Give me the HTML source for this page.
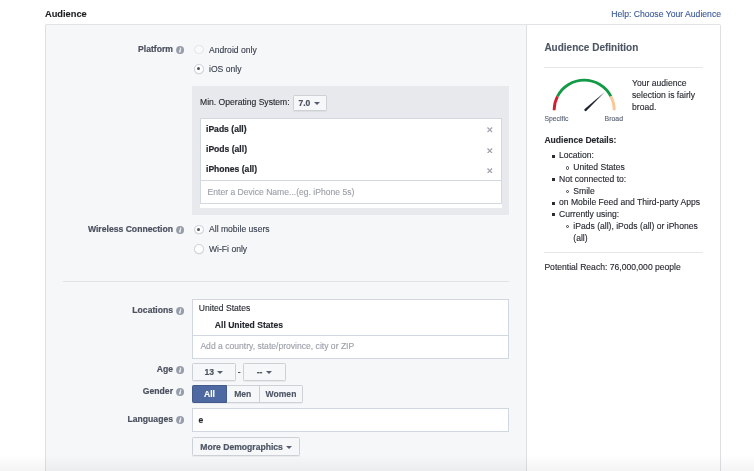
<!DOCTYPE html>
<html>
<head>
<meta charset="utf-8">
<style>
html,body{margin:0;padding:0;}
body{width:754px;height:471px;position:relative;overflow:hidden;background:#fff;font-family:"Liberation Sans",sans-serif;font-size:8.58px;color:#25282f;line-height:12px;-webkit-text-stroke:0.12px;}
.abs{position:absolute;white-space:nowrap;}
.title{left:45.2px;top:8px;font-size:9.9px;transform:scaleX(0.94);transform-origin:0 0;font-weight:bold;color:#1c1e21;line-height:12px;}
.help{right:33px;top:8px;font-size:8.63px;color:#3b5998;line-height:12px;}
.panelL{left:45px;top:24px;width:481px;height:460px;background:#f6f7f8;border:1px solid #dddfe2;border-top-color:#e2e3e6;border-right:none;border-radius:2px 0 0 0;box-sizing:border-box;}
.panelR{left:526px;top:24px;width:195px;height:460px;background:#fff;border:1px solid #dddfe2;border-top-color:#e2e3e6;border-left:1px solid #dddfe2;border-radius:0 2px 0 0;box-sizing:border-box;}
.lbl{-webkit-text-stroke:0.2px;font-weight:bold;color:#4c5160;font-size:8.62px;text-align:right;width:130px;left:43px;}
.info{width:8.2px;height:8.2px;left:176.4px;margin-top:-0.2px}
.info svg{display:block;width:8.2px;height:8.2px}
.radio{width:9.6px;height:9.6px;border-radius:50%;border:1px solid #cdd0d6;background:#fff;box-sizing:border-box;left:194.1px;box-shadow:0 0.6px 0.8px rgba(0,0,0,.08);}
.radio.dis{border-color:#e3e4e8;background:#f9fafa;box-shadow:none;}
.radio.on:after{content:"";position:absolute;left:2.3px;top:2.3px;width:3.0px;height:3.0px;border-radius:50%;background:#4e5464;}
.rt{left:209px;color:#373e4d;}
.gray{left:192.3px;top:86px;width:316.5px;height:128.5px;background:#e8e9ec;}
.btn{-webkit-text-stroke:0.2px;box-sizing:border-box;border:1px solid #cdd0d5;border-radius:1.5px;background:#f6f7f8;font-weight:bold;color:#4e5665;text-align:center;box-shadow:0 0.7px 0.7px rgba(0,0,0,.05);}
.caret{display:inline-block;width:0;height:0;border-left:3.2px solid transparent;border-right:3.2px solid transparent;border-top:3.8px solid #565d6c;vertical-align:middle;margin-left:3.2px;margin-top:-0.5px}
.box{box-sizing:border-box;background:#fff;border:1px solid #d2d6e1;}
.tok{left:206px;-webkit-text-stroke:0.2px;font-weight:bold;color:#25282f;}
.x{left:487.3px;width:5.6px;height:5.6px;}
.x svg{display:block;width:5.6px;height:5.6px}
.ph{color:#9a9ea7;}
hr.sep{position:absolute;margin:0;border:0;height:1px;background:#e0e2e6;}
</style>
</head>
<body><div id="wrap" style="position:absolute;left:0;top:0;width:754px;height:471px;filter:blur(0.35px);">
<div class="abs title">Audience</div>
<div class="abs help">Help: Choose Your Audience</div>
<div class="abs panelL"></div>
<div class="abs panelR"></div>

<!-- Platform -->
<div class="abs lbl" style="top:43px;">Platform</div>
<div class="abs info" style="top:45.9px;"><svg viewBox="0 0 82 82"><circle cx="41" cy="41" r="40" fill="#989dab"/><circle cx="46.5" cy="22" r="7" fill="#fff"/><path d="M37 33 L50.5 33 L44 64 L30.5 64 Z" fill="#fff"/></svg></div>
<div class="abs radio dis" style="top:44.8px;"></div>
<div class="abs rt" style="top:43.5px;">Android only</div>
<div class="abs radio on" style="top:64.2px;"></div>
<div class="abs rt" style="top:63px;">iOS only</div>

<div class="abs gray"></div>
<div class="abs" style="left:200px;top:96px;color:#25282f;">Min. Operating System:</div>
<div class="abs btn" style="left:292.5px;top:94.7px;width:34px;height:16.3px;line-height:14px;padding-right:1px;">7.0<span class="caret"></span></div>

<div class="abs box" style="left:199.6px;top:118px;width:302.4px;height:86px;border-color:#d3d7e2;"></div>
<div class="abs" style="left:200px;top:204px;width:302px;height:4.2px;background:#fff;"></div>
<div class="abs tok" style="top:122.5px;">iPads (all)</div>
<div class="abs tok" style="top:142.5px;">iPods (all)</div>
<div class="abs tok" style="top:163px;">iPhones (all)</div>
<div class="abs x" style="top:127px;"><svg viewBox="0 0 56 56"><path d="M5 5 L51 51 M51 5 L5 51" stroke="#9da1ab" stroke-width="12" fill="none"/></svg></div>
<div class="abs x" style="top:147.5px;"><svg viewBox="0 0 56 56"><path d="M5 5 L51 51 M51 5 L5 51" stroke="#9da1ab" stroke-width="12" fill="none"/></svg></div>
<div class="abs x" style="top:167.6px;"><svg viewBox="0 0 56 56"><path d="M5 5 L51 51 M51 5 L5 51" stroke="#9da1ab" stroke-width="12" fill="none"/></svg></div>
<div class="abs box" style="left:199.6px;top:179.6px;width:302.4px;height:24.4px;border-color:#d3d8e3;"></div>
<div class="abs ph" style="left:207.5px;top:185.5px;">Enter a Device Name...(eg. iPhone 5s)</div>

<!-- Wireless -->
<div class="abs lbl" style="top:223px;">Wireless Connection</div>
<div class="abs info" style="top:226px;"><svg viewBox="0 0 82 82"><circle cx="41" cy="41" r="40" fill="#989dab"/><circle cx="46.5" cy="22" r="7" fill="#fff"/><path d="M37 33 L50.5 33 L44 64 L30.5 64 Z" fill="#fff"/></svg></div>
<div class="abs radio on" style="top:224.5px;"></div>
<div class="abs rt" style="top:223px;">All mobile users</div>
<div class="abs radio" style="top:244.2px;"></div>
<div class="abs rt" style="top:243px;">Wi-Fi only</div>

<hr class="sep" style="left:63px;top:281px;width:446px;">

<!-- Locations -->
<div class="abs lbl" style="top:304.1px;">Locations</div>
<div class="abs info" style="top:307.5px;"><svg viewBox="0 0 82 82"><circle cx="41" cy="41" r="40" fill="#989dab"/><circle cx="46.5" cy="22" r="7" fill="#fff"/><path d="M37 33 L50.5 33 L44 64 L30.5 64 Z" fill="#fff"/></svg></div>
<div class="abs box" style="left:192.2px;top:298.8px;width:317px;height:59.8px;"></div>
<div class="abs" style="left:193px;top:334.5px;width:315px;height:1px;background:#d3d7e2;"></div>
<div class="abs" style="left:198.8px;top:302px;color:#25282f;">United States</div>
<div class="abs" style="left:214.8px;top:319.2px;font-weight:bold;color:#25282f;">All United States</div>
<div class="abs ph" style="left:200.4px;top:340px;">Add a country, state/province, city or ZIP</div>

<!-- Age -->
<div class="abs lbl" style="top:363px;">Age</div>
<div class="abs info" style="top:366px;"><svg viewBox="0 0 82 82"><circle cx="41" cy="41" r="40" fill="#989dab"/><circle cx="46.5" cy="22" r="7" fill="#fff"/><path d="M37 33 L50.5 33 L44 64 L30.5 64 Z" fill="#fff"/></svg></div>
<div class="abs btn" style="left:192.2px;top:363.4px;width:43.4px;height:17.4px;line-height:16.6px;">13<span class="caret"></span></div>
<div class="abs" style="left:237.8px;top:365.6px;color:#333;">-</div>
<div class="abs btn" style="left:242.6px;top:363.4px;width:43.2px;height:17.4px;line-height:16.6px;">--<span class="caret"></span></div>

<!-- Gender -->
<div class="abs lbl" style="top:385px;">Gender</div>
<div class="abs info" style="top:388px;"><svg viewBox="0 0 82 82"><circle cx="41" cy="41" r="40" fill="#989dab"/><circle cx="46.5" cy="22" r="7" fill="#fff"/><path d="M37 33 L50.5 33 L44 64 L30.5 64 Z" fill="#fff"/></svg></div>
<div class="abs btn" style="left:192.2px;top:385.2px;width:110.6px;height:17.4px;"></div>
<div class="abs" style="left:192.2px;top:385.2px;width:34.6px;height:17.4px;background:#4e69a2;border:1px solid #435a8b;box-sizing:border-box;border-radius:1.5px 0 0 1.5px;color:#fff;font-weight:bold;text-align:center;line-height:16.6px;">All</div>
<div class="abs" style="left:226.8px;top:385.2px;width:32.9px;height:17.4px;box-sizing:border-box;border-right:1px solid #cdd0d5;color:#4e5665;font-weight:bold;text-align:center;line-height:18.6px;">Men</div>
<div class="abs" style="left:259.7px;top:385.2px;width:42.6px;height:17.4px;color:#4e5665;font-weight:bold;text-align:center;line-height:18.6px;">Women</div>

<!-- Languages -->
<div class="abs lbl" style="top:413.2px;">Languages</div>
<div class="abs info" style="top:416.5px;"><svg viewBox="0 0 82 82"><circle cx="41" cy="41" r="40" fill="#989dab"/><circle cx="46.5" cy="22" r="7" fill="#fff"/><path d="M37 33 L50.5 33 L44 64 L30.5 64 Z" fill="#fff"/></svg></div>
<div class="abs box" style="left:192.2px;top:407.8px;width:317px;height:24.2px;"></div>
<div class="abs" style="left:198.6px;top:413.8px;font-weight:bold;color:#25282f;">e</div>

<div class="abs btn" style="left:192.2px;top:436.7px;width:108px;height:19.8px;line-height:18.6px;">More Demographics<span class="caret"></span></div>

<!-- Right panel -->
<div class="abs" style="left:544.4px;top:41.4px;font-size:10.0px;font-weight:bold;color:#4e5665;line-height:14px;">Audience Definition</div>
<hr class="sep" style="left:544.4px;top:67px;width:159px;background:#e5e6e9;">

<svg class="abs" style="left:545.4px;top:72px;" width="84" height="44" viewBox="0 0 84 44">
  <path d="M9.10 38.20 A30.1 30.1 0 0 1 12.50 24.30" fill="none" stroke="#cf1f2e" stroke-width="2.8"/>
  <path d="M12.50 24.30 A30.1 30.1 0 0 1 65.90 24.30" fill="none" stroke="#149a47" stroke-width="2.8"/>
  <path d="M65.90 24.30 A30.1 30.1 0 0 1 69.30 38.20" fill="none" stroke="#fcc795" stroke-width="2.8"/>
  <path d="M39.4 37.3 Q39.0 38.7 40.4 39.2 L41.2 38.9 L59.8 20.0 Z" fill="#1b2130"/>
</svg>
<div class="abs" style="left:544.4px;top:113.5px;font-size:6.85px;color:#5a6377;line-height:10px;">Specific</div>
<div class="abs" style="left:604.6px;top:113.5px;font-size:6.9px;color:#5a6377;line-height:10px;">Broad</div>

<div class="abs" style="left:632px;top:77px;font-size:8.58px;color:#25282f;line-height:12px;white-space:normal;width:78px;">Your audience selection is fairly broad.</div>

<div class="abs" style="left:544.4px;top:134px;font-size:8.58px;font-weight:bold;color:#25282f;">Audience Details:</div>

<div class="abs" style="left:559px;top:150.4px;line-height:11.74px;font-size:8.58px;color:#25282f;white-space:normal;width:152px;">
Location:<br>
<span style="padding-left:14.3px">United States</span><br>
Not connected to:<br>
<span style="padding-left:14.3px">Smile</span><br>
on Mobile Feed and Third-party Apps<br>
Currently using:<br>
<span style="padding-left:14.3px">iPads (all), iPods (all) or iPhones</span><br>
<span style="padding-left:14.3px">(all)</span>
</div>
<!-- bullets -->
<div class="abs" style="left:552px;top:155px;width:3px;height:3px;background:#2a2d34;"></div>
<div class="abs" style="left:552px;top:178px;width:3px;height:3px;background:#2a2d34;"></div>
<div class="abs" style="left:552px;top:202px;width:3px;height:3px;background:#2a2d34;"></div>
<div class="abs" style="left:552px;top:213px;width:3px;height:3px;background:#2a2d34;"></div>
<div class="abs" style="left:565.8px;top:166.09px;width:3.7px;height:3.7px;border:0.9px solid #3a3d45;border-radius:50%;box-sizing:border-box;"></div>
<div class="abs" style="left:565.8px;top:189.57px;width:3.7px;height:3.7px;border:0.9px solid #3a3d45;border-radius:50%;box-sizing:border-box;"></div>
<div class="abs" style="left:565.8px;top:224.79px;width:3.7px;height:3.7px;border:0.9px solid #3a3d45;border-radius:50%;box-sizing:border-box;"></div>

<hr class="sep" style="left:544.4px;top:252px;width:159px;background:#e5e6e9;">
<div class="abs" style="left:544.4px;top:260.5px;font-size:8.58px;color:#25282f;">Potential Reach: 76,000,000 people</div>

<!-- bottom fade -->
<div class="abs" style="left:0;top:455px;width:754px;height:16px;background:linear-gradient(to bottom,rgba(0,0,0,0),rgba(0,0,0,0.045));"></div>
</div></body>
</html>
